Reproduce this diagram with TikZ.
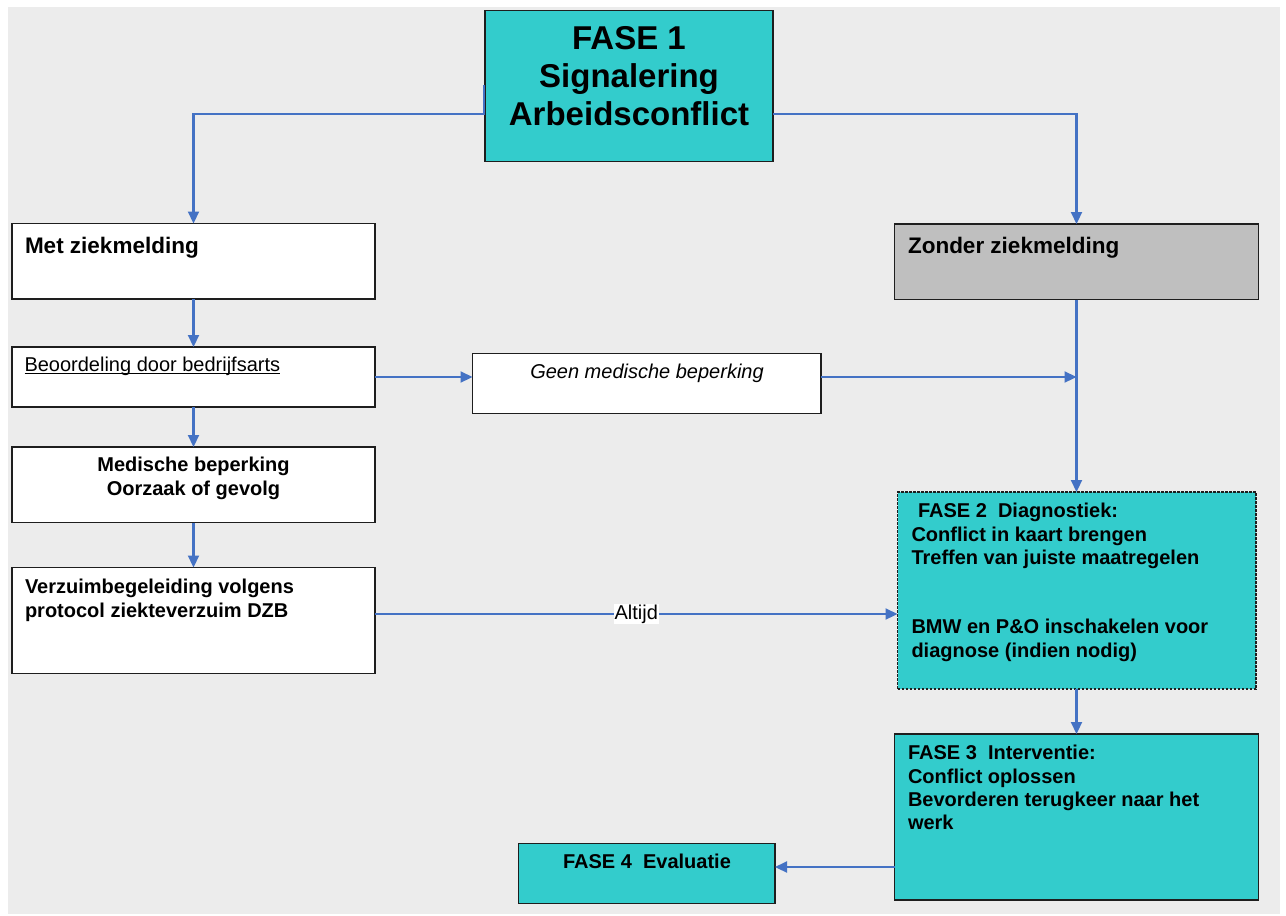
\documentclass[tikz,border=0pt]{standalone}
\usepackage{fontspec}
\setmainfont{Liberation Sans}
\usetikzlibrary{arrows.meta,calc}
\definecolor{bgc}{RGB}{236,236,236}
\definecolor{tealc}{RGB}{51,204,204}
\definecolor{grayb}{RGB}{191,191,191}
\definecolor{arrowc}{RGB}{68,114,196}
\definecolor{borderc}{RGB}{30,30,30}
\begin{document}
\begin{tikzpicture}[x=1pt,y=-1pt,
  box/.style={draw=borderc, line width=1.5pt, anchor=north west, inner sep=0pt, outer sep=0pt},
  txt/.style={inner sep=0pt, outer sep=0pt, font=\fontsize{20}{24}\selectfont},
  btxt/.style={inner sep=0pt, outer sep=0pt, font=\fontsize{20}{24}\selectfont\bfseries},
  htxt/.style={inner sep=0pt, outer sep=0pt, font=\fontsize{22.5}{27}\selectfont\bfseries},
  ttxt/.style={inner sep=0pt, outer sep=0pt, font=\fontsize{33}{38}\selectfont\bfseries},
  conn/.style={draw=arrowc, line width=2.2pt, -{Triangle[length=12pt,width=11pt]}},
]
\useasboundingbox (0,0) rectangle (1286,916);
\fill[bgc] (8,7) rectangle (1280,914);

% boxes
\node[box, fill=tealc, minimum width=288pt, minimum height=151pt] (f1) at (485,10.5) {};
\node[box, fill=white, minimum width=363pt, minimum height=75.5pt] (met) at (12,223.5) {};
\node[box, fill=grayb, minimum width=364pt, minimum height=75.5pt] (zon) at (894.5,224) {};
\node[box, fill=white, minimum width=363pt, minimum height=60pt] (beo) at (12,347) {};
\node[box, fill=white, minimum width=363pt, minimum height=75.5pt] (med) at (12,447) {};
\node[box, fill=white, minimum width=363pt, minimum height=106pt] (ver) at (12,567.5) {};
\node[box, fill=white, minimum width=348.5pt, minimum height=60pt] (geen) at (472.5,353.5) {};
\node[box, fill=tealc, line width=1.2pt, dash pattern=on 2.5pt off 1.5pt, minimum width=358.5pt, minimum height=197pt] (f2) at (897.5,492) {};
\node[box, fill=tealc, minimum width=364pt, minimum height=166pt] (f3) at (894.5,734) {};
\node[box, fill=tealc, minimum width=256.5pt, minimum height=60pt] (f4) at (518.5,843.5) {};

% texts
\node[ttxt, anchor=base] (f1a) at (629,49.5) {FASE 1};
\node[ttxt, anchor=base] (f1b) at (629,87) {Signalering};
\node[ttxt, anchor=base] (f1c) at (629,125) {Arbeidsconflict};

\node[htxt, anchor=base west] (mett) at (25,253) {Met ziekmelding};
\node[htxt, anchor=base west] (zont) at (908,253) {Zonder ziekmelding};

\node[txt, anchor=base west] (beot) at (24.5,371.5) {Beoordeling door bedrijfsarts};
\draw[black, line width=1pt] ([yshift=-2pt]beot.base west) -- ([yshift=-2pt]beot.base east);

\node[txt, anchor=base, font=\fontsize{20}{24}\selectfont\itshape] (geent) at (647,378.5) {Geen medische beperking};

\node[btxt, anchor=base] (meda) at (193.5,471.5) {Medische beperking};
\node[btxt, anchor=base] (medb) at (193.5,495) {Oorzaak of gevolg};

\node[btxt, anchor=base west] (vera) at (25,593.5) {Verzuimbegeleiding volgens};
\node[btxt, anchor=base west] (verb) at (25,617) {protocol ziekteverzuim DZB};

\node[btxt, anchor=base west] (f2a) at (918,517.5) {FASE 2\ \ Diagnostiek:};
\node[btxt, anchor=base west] (f2b) at (911.5,541) {Conflict in kaart brengen};
\node[btxt, anchor=base west] (f2c) at (911.5,564) {Treffen van juiste maatregelen};
\node[btxt, anchor=base west] (f2d) at (911.5,633.5) {BMW en P\&O inschakelen voor};
\node[btxt, anchor=base west] (f2e) at (911.5,657) {diagnose (indien nodig)};

\node[btxt, anchor=base west] (f3a) at (908,759.5) {FASE 3\ \ Interventie:};
\node[btxt, anchor=base west] (f3b) at (908,783) {Conflict oplossen};
\node[btxt, anchor=base west] (f3c) at (908,806) {Bevorderen terugkeer naar het};
\node[btxt, anchor=base west] (f3d) at (908,829.5) {werk};

\node[btxt, anchor=base] (f4a) at (647,868.5) {FASE 4\ \ Evaluatie};

% connectors
\draw[conn] (f1.west) -- ++(-1,0) -- ++(0,28) -| (met.north);
\draw[conn] ([yshift=-28pt]f1.east) -| (zon.north);
\draw[conn] (met.south) -- (beo.north);
\draw[conn] (beo.south) -- (med.north);
\draw[conn] (med.south) -- (ver.north);
\draw[conn] (beo.east) -- (beo.east -| geen.west);
\coordinate (j1) at (zon.south |- beo.east);
\draw[conn] (geen.east |- beo.east) -- (j1);
\draw[conn] (zon.south) -- (zon.south |- f2.north);
\draw[conn] ([yshift=6.5pt]ver.east) -- node[fill=white, inner sep=1pt, font=\fontsize{20}{24}\selectfont] (alt) {Altijd} ([yshift=6.5pt]ver.east -| f2.west);
\draw[conn] (f2.south -| f3.north) -- (f3.north);
\draw[conn] ([yshift=6.5pt]f4.east -| f3.west) -- ([yshift=6.5pt]f4.east);
\end{tikzpicture}
\end{document}
